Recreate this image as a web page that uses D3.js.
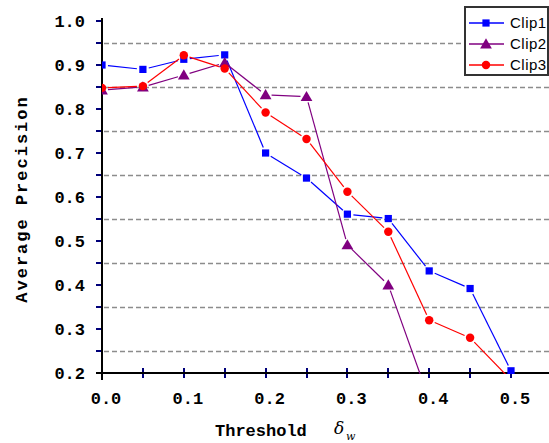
<!DOCTYPE html>
<html>
<head>
<meta charset="utf-8">
<script src="https://cdn.jsdelivr.net/npm/d3@7"></script>
<style>
  html, body { margin: 0; padding: 0; background: #fff; }
  svg { display: block; }
</style>
</head>
<body>
<svg width="549" height="443"></svg>
<script>
// data
var thresholds = [0.0, 0.05, 0.1, 0.15, 0.2, 0.25, 0.3, 0.35, 0.4, 0.45, 0.5];
var clip1 = [0.90, 0.89, 0.913, 0.923, 0.70, 0.643, 0.561, 0.551, 0.432, 0.392, 0.205];
var clip2 = [0.843, 0.85, 0.877, 0.905, 0.832, 0.828, 0.491, 0.40, 0.14, null, null];
var clip3 = [0.848, 0.852, 0.922, 0.892, 0.792, 0.732, 0.612, 0.521, 0.32, 0.28, 0.184];
var seriesNames = ["Clip1", "Clip2", "Clip3"];
var seriesColors = ["#0000ff", "#800080", "#ff0000"];
var xTicks = [0, 0.1, 0.2, 0.3, 0.4, 0.5];
var yTicks = [0.2, 0.3, 0.4, 0.5, 0.6, 0.7, 0.8, 0.9, 1.0];
var gridValues = [0.25, 0.35, 0.45, 0.55, 0.65, 0.75, 0.85, 0.95];

var W = 549, H = 443;
var x = d3.scaleLinear().domain([0, 0.5]).range([102, 511]);
var y = d3.scaleLinear().domain([0.2, 1.0]).range([373, 21]);
var x0 = x(0), yb = y(0.2);

var svg = d3.select("svg");
svg.append("rect").attr("width", W).attr("height", H).attr("fill", "#fff");

svg.append("clipPath").attr("id", "plotarea")
  .append("rect").attr("x", x0).attr("y", 0).attr("width", W - x0).attr("height", yb - 0 + 1);

// dashed grid at the half steps
svg.append("g").selectAll("line").data(gridValues).join("line")
  .attr("x1", x0 + 2).attr("x2", W)
  .attr("y1", function(d) { return Math.round(y(d)) + 0.5; })
  .attr("y2", function(d) { return Math.round(y(d)) + 0.5; })
  .attr("stroke", "#8c8c8c").attr("stroke-width", 1.6)
  .attr("stroke-dasharray", "5,3");

// y axis ticks (every 0.05)
var yMinor = d3.range(0.2, 1.0001, 0.05);
svg.append("g").selectAll("line").data(yMinor).join("line")
  .attr("x1", x0 - 6).attr("x2", x0)
  .attr("y1", function(d) { return Math.round(y(d)); })
  .attr("y2", function(d) { return Math.round(y(d)); })
  .attr("stroke", "#00007a").attr("stroke-width", 2);

// x axis ticks (every 0.05)
svg.append("g").selectAll("line").data(thresholds).join("line")
  .attr("x1", function(d) { return Math.round(x(d)); })
  .attr("x2", function(d) { return Math.round(x(d)); })
  .attr("y1", yb - 5).attr("y2", yb + 5)
  .attr("stroke", "#00007a").attr("stroke-width", 2);

// axis lines
svg.append("line").attr("x1", x0).attr("x2", x0).attr("y1", 18).attr("y2", yb + 7)
  .attr("stroke", "#000").attr("stroke-width", 2);
svg.append("line").attr("x1", x0 - 6).attr("x2", W).attr("y1", yb).attr("y2", yb)
  .attr("stroke", "#000").attr("stroke-width", 2);

var tickFont = "'Liberation Mono', 'DejaVu Sans Mono', monospace";

svg.append("g").selectAll("text").data(yTicks).join("text")
  .attr("x", 85).attr("y", function(d) { return y(d) + 6; })
  .attr("text-anchor", "end")
  .style("font-family", tickFont).style("font-weight", "bold").style("font-size", "17px")
  .text(function(d) { return d.toFixed(1); });

svg.append("g").selectAll("text").data(xTicks).join("text")
  .attr("x", function(d) { return x(d) + 4; }).attr("y", 404)
  .attr("text-anchor", "middle")
  .style("font-family", tickFont).style("font-weight", "bold").style("font-size", "17px")
  .text(function(d) { return d.toFixed(1); });

// axis titles
svg.append("text")
  .attr("transform", "translate(27,199) rotate(-90)")
  .attr("text-anchor", "middle")
  .style("font-family", tickFont).style("font-weight", "bold").style("font-size", "17px")
  .style("letter-spacing", "2px")
  .text("Average Precision");

var xt = svg.append("text").attr("x", 215).attr("y", 436)
  .style("font-family", tickFont).style("font-weight", "bold").style("font-size", "17px")
  .text("Threshold");
svg.append("text").attr("x", 334).attr("y", 434)
  .style("font-family", "'DejaVu Serif', serif").style("font-style", "italic").style("font-size", "17px")
  .text("\u03b4");
svg.append("text").attr("x", 346).attr("y", 440)
  .style("font-family", "'DejaVu Serif', serif").style("font-style", "italic").style("font-size", "11px")
  .text("w");

// series
var series = [clip1, clip2, clip3];
var symbols = [d3.symbolSquare, d3.symbolTriangle, d3.symbolCircle];
var symSize = [52, 60, 56];
var fig = svg.append("g").attr("clip-path", "url(#plotarea)");
var gap = 6;

series.forEach(function(vals, si) {
  var pts = [];
  vals.forEach(function(v, i) { if (v != null) pts.push([x(thresholds[i]), y(v)]); });
  var g = fig.append("g");
  for (var i = 0; i < pts.length - 1; i++) {
    var a = pts[i], b = pts[i + 1];
    var dx = b[0] - a[0], dy = b[1] - a[1], L = Math.sqrt(dx * dx + dy * dy);
    var ux = dx / L, uy = dy / L;
    g.append("line")
      .attr("x1", a[0] + ux * gap).attr("y1", a[1] + uy * gap)
      .attr("x2", b[0] - ux * gap).attr("y2", b[1] - uy * gap)
      .attr("stroke", seriesColors[si]).attr("stroke-width", 1.2);
  }
  g.selectAll("path.m").data(pts).join("path").attr("class", "m")
    .attr("transform", function(d) { return "translate(" + d[0] + "," + (d[1] + (si === 1 ? 1 : 0)) + ")"; })
    .attr("d", d3.symbol().type(symbols[si]).size(symSize[si]))
    .attr("fill", seriesColors[si]);
});

// legend
var lg = svg.append("g").attr("transform", "translate(465,7)");
lg.append("rect").attr("x", 0).attr("y", 0).attr("width", 83).attr("height", 68)
  .attr("fill", "#fff").attr("stroke", "#333").attr("stroke-width", 2);
seriesNames.forEach(function(name, i) {
  var ry = 16 + i * 21;
  lg.append("line").attr("x1", 4).attr("x2", 39).attr("y1", ry).attr("y2", ry)
    .attr("stroke", seriesColors[i]).attr("stroke-width", 1.5);
  lg.append("path").attr("transform", "translate(21," + (ry + (i === 1 ? 1 : 0)) + ")")
    .attr("d", d3.symbol().type(symbols[i]).size(symSize[i]))
    .attr("fill", seriesColors[i]);
  lg.append("text").attr("x", 45).attr("y", ry + 5)
    .style("font-family", "'Liberation Sans', Arial, sans-serif").style("font-size", "15px")
    .style("letter-spacing", "0.5px")
    .text(name);
});
</script>
</body>
</html>
